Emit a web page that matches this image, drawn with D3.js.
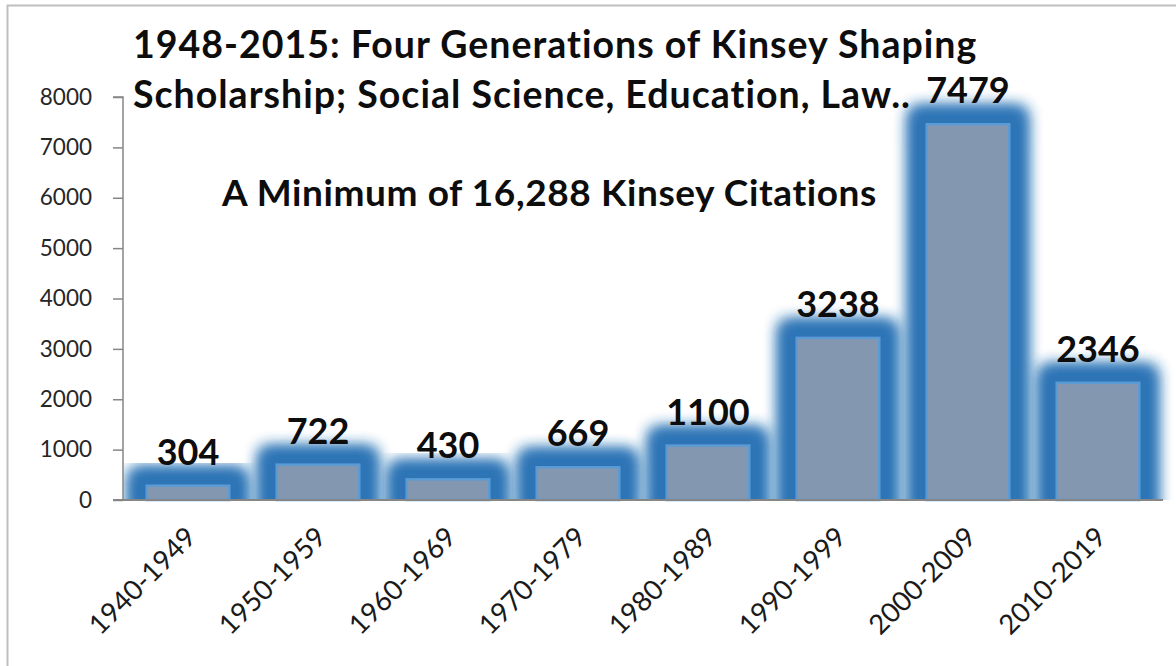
<!DOCTYPE html>
<html>
<head>
<meta charset="utf-8">
<script src="https://cdn.jsdelivr.net/npm/d3@7"></script>
<style>
  html, body { margin: 0; padding: 0; background: #fff; }
  svg { display: block; }
</style>
</head>
<body>
<svg id="chart" width="1176" height="666"></svg>
<script>
const categories = ["1940-1949","1950-1959","1960-1969","1970-1979","1980-1989","1990-1999","2000-2009","2010-2019"];
const citations = [304, 722, 430, 669, 1100, 3238, 7479, 2346];
const yTicks = [0, 1000, 2000, 3000, 4000, 5000, 6000, 7000, 8000];
const titleLines = ["1948-2015: Four Generations of Kinsey Shaping", "Scholarship; Social Science, Education, Law.."];
const subtitle = "A Minimum of 16,288 Kinsey Citations";

const svg = d3.select("#chart");
const W = 1176, H = 666;
const plot = { left: 123, right: 1163, top: 97, bottom: 500 };
const FONT = "Lato, 'Open Sans', sans-serif";

// outer chart border
svg.append("rect").attr("x", 7.5).attr("y", 5.5).attr("width", W + 20).attr("height", H + 20)
  .attr("fill", "#fff").attr("stroke", "#bfbfbf").attr("stroke-width", 2);

const x = d3.scaleBand().domain(categories).range([plot.left, plot.right]).paddingInner(0.35).paddingOuter(0.175);
const y = d3.scaleLinear().domain([0, 8000]).range([plot.bottom, plot.top]);

const defs = svg.append("defs");
const f = defs.append("filter").attr("id", "glow").attr("x", "-60%").attr("y", "-60%").attr("width", "220%").attr("height", "220%");
f.append("feMorphology").attr("in", "SourceAlpha").attr("operator", "dilate").attr("radius", 16).attr("result", "dil");
f.append("feFlood").attr("flood-color", "#2e75b6").attr("result", "col");
f.append("feComposite").attr("in", "col").attr("in2", "dil").attr("operator", "in").attr("result", "glowShape");
f.append("feGaussianBlur").attr("in", "glowShape").attr("stdDeviation", 7.5).attr("result", "blur");
f.append("feMerge").call(m => { m.append("feMergeNode").attr("in", "blur"); m.append("feMergeNode").attr("in", "blur"); });

defs.append("clipPath").attr("id", "plotClip").append("rect")
  .attr("x", plot.left).attr("y", 0).attr("width", plot.right - plot.left + 30).attr("height", plot.bottom);

// glow layer
svg.append("g").attr("clip-path", "url(#plotClip)")
  .selectAll("rect").data(citations).join("rect")
  .attr("x", (d, i) => x(categories[i])).attr("width", x.bandwidth())
  .attr("y", d => y(d)).attr("height", d => plot.bottom - y(d) + 20)
  .attr("rx", 8).attr("fill", "#2e75b6").attr("filter", "url(#glow)");

// bars
svg.append("g").selectAll("rect").data(citations).join("rect")
  .attr("x", (d, i) => x(categories[i]) + 1).attr("width", x.bandwidth() - 2)
  .attr("y", d => y(d) + 1).attr("height", d => plot.bottom - y(d) - 1)
  .attr("fill", "#8497b0").attr("stroke", "#5b9bd5").attr("stroke-width", 2.5);

// y axis
const yAxis = svg.append("g").attr("transform", `translate(${plot.left},0)`)
  .call(d3.axisLeft(y).tickValues(yTicks).tickSize(10).tickPadding(21).tickFormat(d3.format("d")));
yAxis.select(".domain").attr("stroke", "#868686").attr("stroke-width", 1.5).attr("d", `M-10,${plot.top}H0V${plot.bottom}`);
yAxis.selectAll(".tick line").attr("stroke", "#868686").attr("stroke-width", 1.5);
yAxis.selectAll(".tick text").attr("font-family", FONT).attr("font-size", 22.5).attr("fill", "#262626");

// x axis
const xAxis = svg.append("g").attr("transform", `translate(0,${plot.bottom})`)
  .call(d3.axisBottom(x).tickSize(0).tickPadding(0));
xAxis.select(".domain").attr("stroke", "#868686").attr("stroke-width", 2).attr("d", `M${plot.left - 10},0H${plot.right}`);
xAxis.selectAll(".tick text")
  .attr("font-family", FONT).attr("font-size", 27.5).attr("fill", "#1a1a1a")
  .attr("text-anchor", "end").attr("dy", "0.35em")
  .attr("transform", "translate(3,32) rotate(-45)");

// data labels
svg.append("g").selectAll("text").data(citations).join("text")
  .attr("x", (d, i) => x(categories[i]) + x.bandwidth() / 2)
  .attr("y", d => y(d) - 20)
  .attr("text-anchor", "middle").attr("font-family", FONT).attr("font-weight", "bold")
  .attr("font-size", 36).attr("fill", "#0d0d0d")
  .text(d => d);

// titles
svg.append("g").selectAll("text").data(titleLines).join("text")
  .attr("x", 133).attr("y", (d, i) => 58 + i * 50)
  .attr("font-family", FONT).attr("font-weight", "bold").attr("font-size", 37.5)
  .attr("letter-spacing", 1).attr("fill", "#0d0d0d")
  .text(d => d);

svg.append("text").attr("x", 222).attr("y", 206)
  .attr("font-family", FONT).attr("font-weight", "bold").attr("font-size", 37)
  .attr("letter-spacing", 0.6).attr("fill", "#0d0d0d")
  .text(subtitle);
</script>
</body>
</html>
